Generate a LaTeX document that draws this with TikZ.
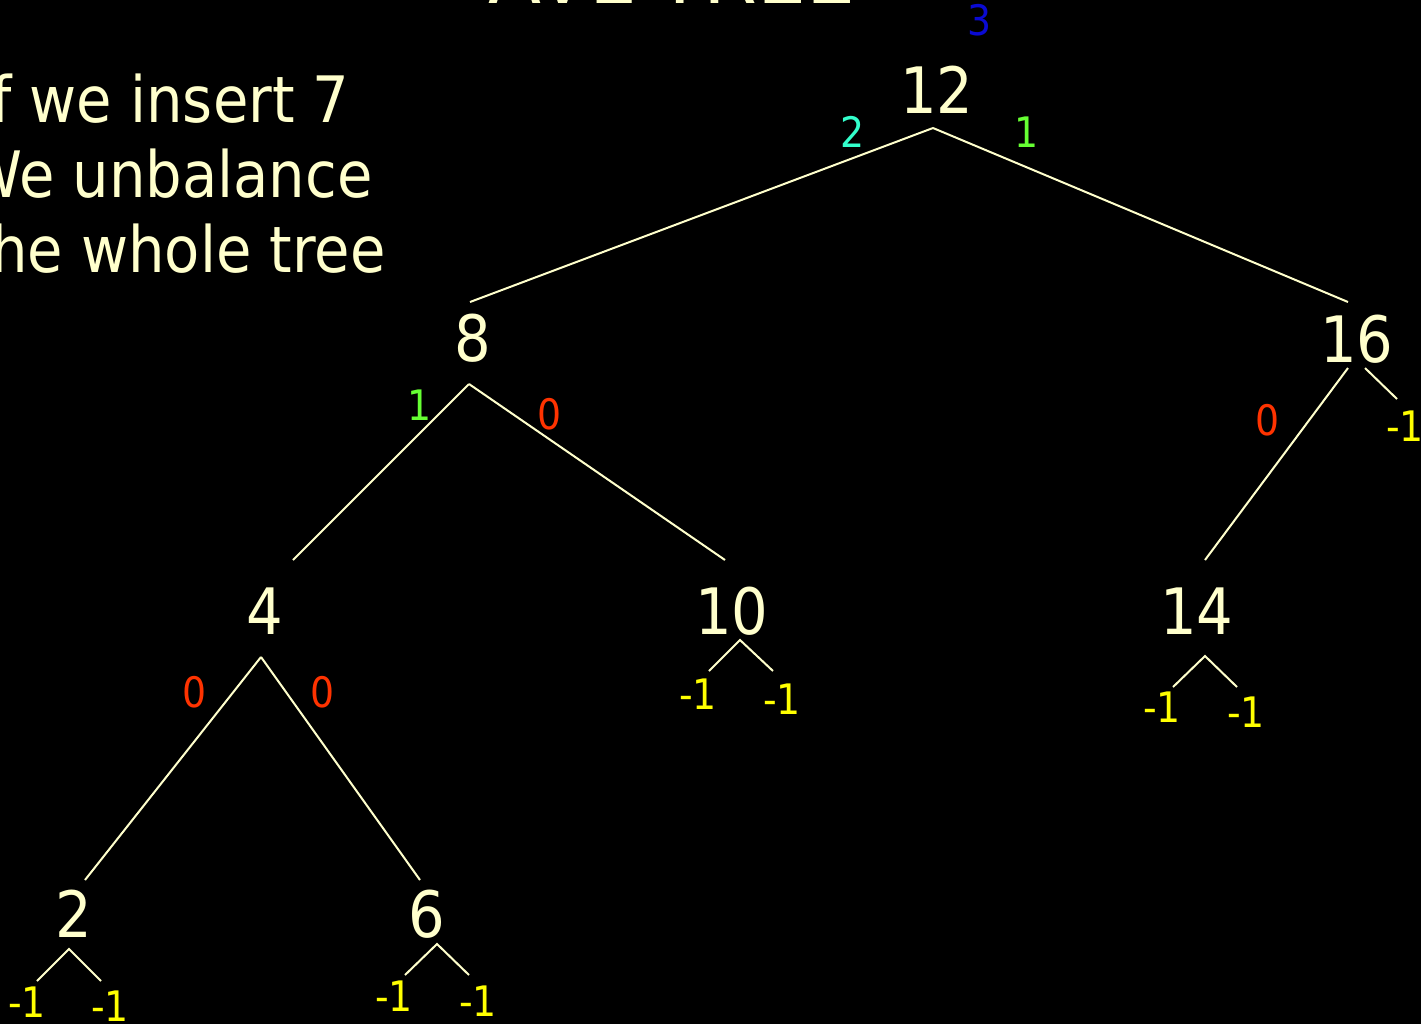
\documentclass[tikz,border=0pt]{standalone}
\usepackage{fontspec}
\setmainfont{DejaVu Sans Condensed}
\usetikzlibrary{positioning}
\definecolor{cream}{HTML}{FFFFCC}
\definecolor{hblue}{RGB}{10,10,210}
\definecolor{hcyan}{HTML}{33FFCC}
\definecolor{hgreen}{HTML}{66FF33}
\definecolor{hred}{HTML}{FF3300}
\definecolor{nilyellow}{HTML}{FFFF00}
\tikzset{
  % tree keys
  keynode/.style={text=cream, font=\fontsize{32}{38}\selectfont, inner sep=0pt},
  % heights written next to the branches
  bfactor/.style={font=\fontsize{21}{25}\selectfont, inner sep=0pt},
  nilnode/.style={bfactor, text=nilyellow},
  % branches
  branch/.style={draw=cream, line width=1pt},
  remark/.style={text=cream, font=\fontsize{32}{38}\selectfont, inner sep=0pt, anchor=base east},
}

\begin{document}
\begin{tikzpicture}[x=0.5pt, y=-0.5pt]

  %% -- frame --
  \useasboundingbox (0,0) rectangle (1421,1024);
  \clip (0,0) rectangle (1421,1024);
  \fill[black] (0,0) rectangle (1421,1024);

  %% -- title and remark --
  \node[text=cream, font=\fontsize{43}{50}\selectfont, inner sep=0pt, anchor=base] (title) at (672,3) {AVL TREE};
  \node[remark] (line1) at (350,122) {If we insert 7};
  \node[remark] (line2) at (373,197) {We unbalance};
  \node[remark] (line3) at (386,272) {the whole tree};

  %% -- keys --
  \node[keynode] (n12) at (937,90)  {12};
  \node[keynode] (n8)  at (473,338) {8};
  \node[keynode] (n16) at (1357,339) {16};
  \node[keynode] (n4)  at (265,611) {4};
  \node[keynode] (n10) at (732,611) {10};
  \node[keynode] (n14) at (1197,611) {14};
  \node[keynode] (n2)  at (74,914)  {2};
  \node[keynode] (n6)  at (427,914) {6};

  %% -- heights --
  \node[bfactor, text=hblue]  (h12) at (980,20)  {3};
  \node[bfactor, text=hcyan]  (h8)  at (853,132) {2};
  \node[bfactor, text=hgreen] (h16) at (1027,132) {1};
  \node[bfactor, text=hgreen] (h4)  at (420,405) {1};
  \node[bfactor, text=hred]   (h10) at (550,414) {0};
  \node[bfactor, text=hred]   (h14) at (1268,420) {0};
  \node[bfactor, text=hred]   (h2)  at (195,692) {0};
  \node[bfactor, text=hred]   (h6)  at (323,692) {0};

  %% -- empty subtrees --
  \node[nilnode] (e16) at (1405,426) {-1};
  \node[nilnode] (e10a) at (698,694)  {-1};
  \node[nilnode] (e10b) at (782,699)  {-1};
  \node[nilnode] (e14a) at (1162,707) {-1};
  \node[nilnode] (e14b) at (1246,712) {-1};
  \node[nilnode] (e2a)  at (27,1002)  {-1};
  \node[nilnode] (e2b)  at (110,1006) {-1};
  \node[nilnode] (e6a)  at (394,996)  {-1};
  \node[nilnode] (e6b)  at (478,1001) {-1};

  %% -- branches --
  \draw[branch] ([shift={(-4,38)}]n12.center) -- ([shift={(-3,-36)}]n8.center);
  \draw[branch] ([shift={(-4,38)}]n12.center) -- ([shift={(-9,-37)}]n16.center);
  \draw[branch] ([shift={(-4,46)}]n8.center) -- ([shift={(28,-51)}]n4.center);
  \draw[branch] ([shift={(-4,46)}]n8.center) -- ([shift={(-7,-51)}]n10.center);
  \draw[branch] ([shift={(-9,29)}]n16.center) -- ([shift={(8,-51)}]n14.center);
  \draw[branch] ([shift={(8,29)}]n16.center) -- ([shift={(-8,-27)}]e16.center);
  \draw[branch] ([shift={(-4,46)}]n4.center) -- ([shift={(11,-34)}]n2.center);
  \draw[branch] ([shift={(-4,46)}]n4.center) -- ([shift={(-7,-34)}]n6.center);

  %% -- stubs to empty subtrees --
  \draw[branch] ([shift={(11,-23)}]e10a.center) -- ([shift={(8,29)}]n10.center) -- ([shift={(-9,-28)}]e10b.center);
  \draw[branch] ([shift={(11,-20)}]e14a.center) -- ([shift={(8,45)}]n14.center) -- ([shift={(-9,-25)}]e14b.center);
  \draw[branch] ([shift={(10,-21)}]e2a.center) -- ([shift={(-5,35)}]n2.center) -- ([shift={(-9,-25)}]e2b.center);
  \draw[branch] ([shift={(11,-21)}]e6a.center) -- ([shift={(10,30)}]n6.center) -- ([shift={(-9,-26)}]e6b.center);

\end{tikzpicture}
\end{document}
